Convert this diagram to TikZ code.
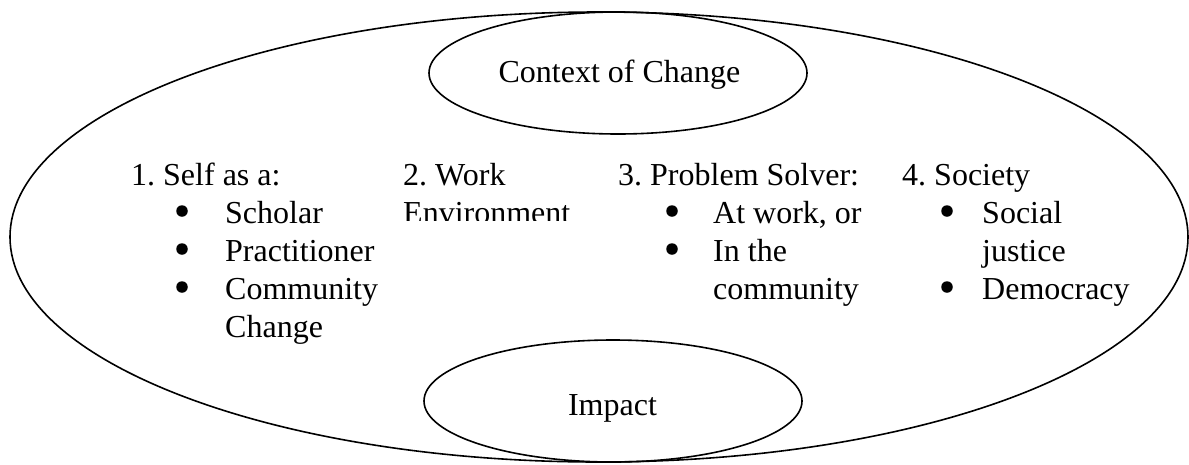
\documentclass[tikz,border=0pt]{standalone}
\usepackage{fontspec}
\setmainfont{Liberation Serif}
\frenchspacing
\usetikzlibrary{shapes.geometric}
\tikzset{
  oval/.style={draw=black, line width=1.6pt, ellipse, inner sep=0pt},
  txt/.style={anchor=base west, inner sep=0pt, font=\fontsize{32}{38}\selectfont},
  ctxt/.style={anchor=base, inner sep=0pt, font=\fontsize{32}{38}\selectfont},
  bul/.style={circle, fill=black, inner sep=0pt, minimum size=11.5pt},
}
\begin{document}
\begin{tikzpicture}[x=1pt,y=-1pt]
\useasboundingbox (0,0) rectangle (1189,464);
% ellipses
\node[oval, minimum width=1178pt, minimum height=450pt] (outer) at (599,237) {};
\node[oval, minimum width=378pt, minimum height=122pt] (ctx) at (618,73) {};
\node[oval, minimum width=378pt, minimum height=122pt] (imp) at (613,401) {};
\node[ctxt] (ctxlabel) at (619.5,82) {Context of Change};
\node[ctxt] (implabel) at (612.5,415) {Impact};
% column 1
\node[txt] (c1h) at (131,185) {1. Self as a:};
\node[bul] (b11) at (182,211) {};
\node[txt] (c1a) at (225,223) {Scholar};
\node[bul] (b12) at (182,249) {};
\node[txt] (c1b) at (225,261) {Practitioner};
\node[bul] (b13) at (182,287) {};
\node[txt] (c1c) at (225,299) {Community};
\node[txt] (c1d) at (225,337) {Change};
% column 2
\node[txt] (c2h) at (403,185) {2. Work};
\begin{scope}
\clip (395,190) rectangle (600,220.5);
\node[txt] (c2a) at (403,223) {Environment};
\end{scope}
% column 3
\node[txt] (c3h) at (618,185) {3. Problem Solver:};
\node[bul] (b31) at (672,211) {};
\node[txt] (c3a) at (713,223) {At work, or};
\node[bul] (b32) at (672,249) {};
\node[txt] (c3b) at (713,261) {In the};
\node[txt] (c3c) at (713,299) {community};
% column 4
\node[txt] (c4h) at (902,185) {4. Society};
\node[bul] (b41) at (947,211) {};
\node[txt] (c4a) at (982,223) {Social};
\node[txt] (c4b) at (982,261) {justice};
\node[bul] (b42) at (947,287) {};
\node[txt] (c4c) at (982,299) {Democracy};
\end{tikzpicture}
\end{document}
